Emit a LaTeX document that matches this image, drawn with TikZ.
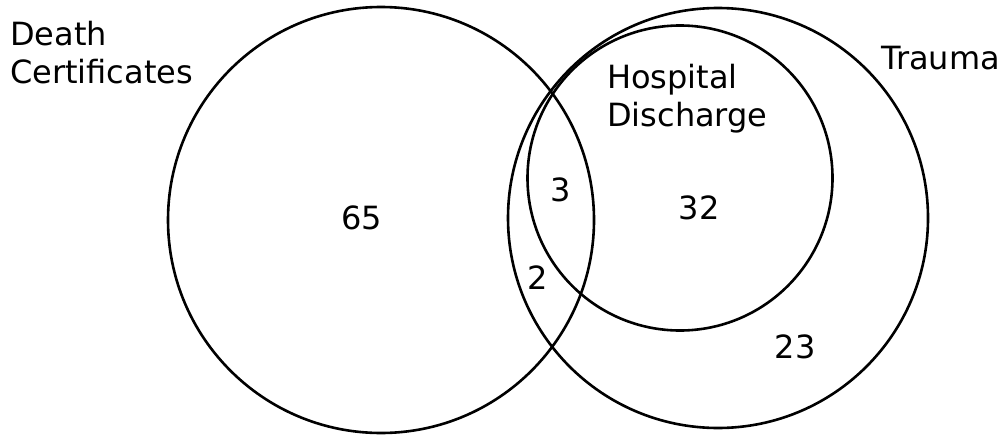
\documentclass[tikz,border=0pt]{standalone}
\usepackage{fontspec}
\setmainfont{DejaVu Sans}
\usepackage{tikz}
\usetikzlibrary{positioning}

\begin{document}
\begin{tikzpicture}[x=1pt,y=-1pt]
  \tikzstyle{myset}=[draw=black, circle, line width=2.6pt, inner sep=0pt]
  \tikzstyle{mylab}=[font=\fontsize{32}{38}\selectfont, align=left, inner sep=0pt]
  \tikzstyle{mynum}=[font=\fontsize{32}{38}\selectfont, inner sep=0pt]
  \useasboundingbox (0,0) rectangle (1008,436);
  % the three sets
  \node[myset, minimum size=426pt] (dc) at (381,220) {};
  \node[myset, minimum size=420pt] (tr) at (718,218) {};
  \node[myset, minimum size=305pt] (hd) at (680,178) {};
  % set names
  \node[mylab, anchor=north west] (dclab) at (10,21) {Death\\Certificates};
  \node[mylab, anchor=north west] (hdlab) at (607,64) {Hospital\\Discharge};
  \node[mylab, anchor=base west] (trlab) at (881,70) {Trauma};
  % counts
  \node[mynum] (n65) at (362,218) {65};
  \node[mynum] (n3) at (561,190) {3};
  \node[mynum] (n2) at (538,278) {2};
  \node[mynum] (n32) at (699,208) {32};
  \node[mynum] (n23) at (795,347) {23};
\end{tikzpicture}
\end{document}
